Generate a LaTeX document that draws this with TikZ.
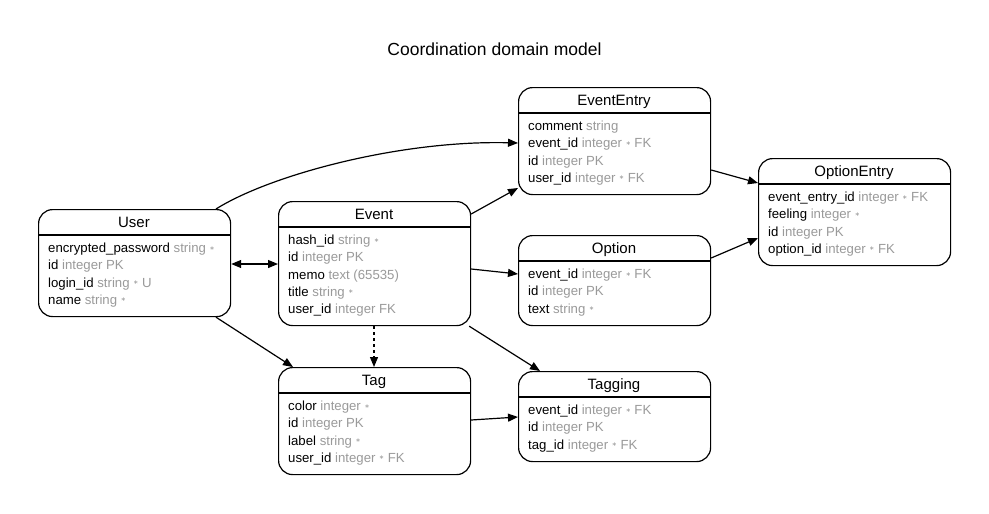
\documentclass[tikz,border=0pt]{standalone}
\usepackage{fontspec}
\setmainfont{Liberation Sans}
\newfontfamily\djv{DejaVu Sans}
\usetikzlibrary{arrows.meta,calc}
\definecolor{typegray}{HTML}{9A9A9A}
\newcommand{\nnull}{\raisebox{0.35ex}{\djv\fontsize{6}{6}\selectfont ∗}}
\newcommand{\fld}[2]{#1 {\color{typegray}#2}}
\tikzset{
  ebox/.style={draw, line width=1.2pt, rounded corners=14pt, anchor=north west, minimum width=192pt, inner sep=0pt, fill=white},
  etitle/.style={font=\fontsize{15}{16}\selectfont, anchor=base, inner sep=0pt},
  erow/.style={font=\fontsize{13.2}{14}\selectfont, anchor=base west, inner sep=0pt},
  rel/.style={line width=1.2pt, -{Triangle[length=10pt,width=8pt]}},
  relboth/.style={line width=1.2pt, {Triangle[length=10pt,width=8pt]}-{Triangle[length=10pt,width=8pt]}},
  reldash/.style={rel, dash pattern=on 3pt off 3pt}
}
% #1 name, #2 left, #3 top, #4 number of rows, #5 title, #6 rows
\newcommand{\entity}[6]{%
  \node[ebox, minimum height={39pt+17pt*#4}] (#1) at (#2,#3) {};
  \node[etitle] (#1-title) at (#2+96,#3+18.5) {#5};
  \draw[line width=1.2pt] (#2,#3+26) -- (#2+192,#3+26);
  \foreach \r [count=\i] in {#6} {
    \node[erow] (#1-r\i) at (#2+10,#3+26.5+17.2*\i) {\r};
  }
}
\begin{document}
\begin{tikzpicture}[x=1pt,y=-1pt]
\useasboundingbox (0,0) rectangle (989,514);
\node[font=\fontsize{17.5}{19}\selectfont, anchor=base] (title) at (494.5,56) {Coordination domain model};

\entity{user}{38}{209}{4}{User}{%
  \fld{encrypted\_password}{string \nnull},
  \fld{id}{integer PK},
  \fld{login\_id}{string \nnull\ U},
  \fld{name}{string \nnull}}
\entity{event}{278}{201}{5}{Event}{%
  \fld{hash\_id}{string \nnull},
  \fld{id}{integer PK},
  \fld{memo}{text (65535)},
  \fld{title}{string \nnull},
  \fld{user\_id}{integer FK}}
\entity{ee}{518}{87}{4}{EventEntry}{%
  \fld{comment}{string},
  \fld{event\_id}{integer \nnull\ FK},
  \fld{id}{integer PK},
  \fld{user\_id}{integer \nnull\ FK}}
\entity{oe}{758}{158}{4}{OptionEntry}{%
  \fld{event\_entry\_id}{integer \nnull\ FK},
  \fld{feeling}{integer \nnull},
  \fld{id}{integer PK},
  \fld{option\_id}{integer \nnull\ FK}}
\entity{option}{518}{235}{3}{Option}{%
  \fld{event\_id}{integer \nnull\ FK},
  \fld{id}{integer PK},
  \fld{text}{string \nnull}}
\entity{tag}{278}{367}{4}{Tag}{%
  \fld{color}{integer \nnull},
  \fld{id}{integer PK},
  \fld{label}{string \nnull},
  \fld{user\_id}{integer \nnull\ FK}}
\entity{tagging}{518}{371}{3}{Tagging}{%
  \fld{event\_id}{integer \nnull\ FK},
  \fld{id}{integer PK},
  \fld{tag\_id}{integer \nnull\ FK}}

% connectors
\draw[rel] ($(user.north west)+(178,0)$) .. controls (270,175) and (400,140) .. ($(ee.north west)+(0,56)$);
\draw[relboth] ($(user.north east)+(0,55)$) -- ($(event.north west)+(0,63)$);
\draw[rel] ($(user.south west)+(178,0)$) -- ($(tag.north west)+(15,0)$);
\draw[rel] ($(event.north east)+(0,13)$) -- ($(ee.north west)+(0,101)$);
\draw[rel] ($(event.north east)+(0,68)$) -- ($(option.north west)+(0,39)$);
\draw[rel] ($(event.south east)+(-2,0)$) -- ($(tagging.north west)+(22,0)$);
\draw[reldash] ($(event.south west)+(96,0)$) -- ($(tag.north west)+(96,0)$);
\draw[rel] ($(ee.north east)+(0,83)$) -- ($(oe.north west)+(0,25)$);
\draw[rel] ($(option.north east)+(0,23)$) -- ($(oe.north west)+(0,80)$);
\draw[rel] ($(tag.north east)+(0,53)$) -- ($(tagging.north west)+(0,46)$);
\end{tikzpicture}
\end{document}
